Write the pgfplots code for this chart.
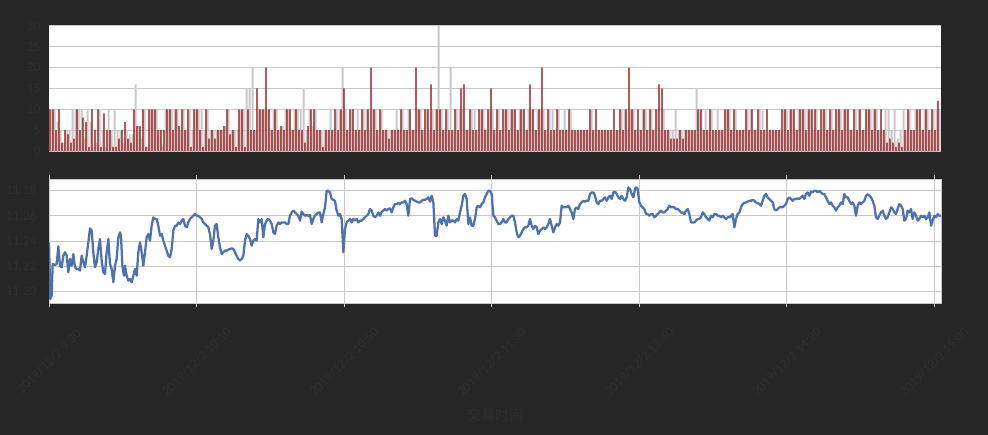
\documentclass[border=0pt]{standalone}
\usepackage{fontspec}
\setmainfont{Carlito}
\newfontfamily\cjk{Noto Sans CJK SC}
\usepackage{pgfplots}
\usepackage{pgfplotstable}
\pgfplotsset{compat=1.18}
\definecolor{bgc}{RGB}{38,38,38}
\definecolor{txt}{RGB}{47,47,47}
\definecolor{gridc}{RGB}{200,200,200}
\definecolor{barg}{RGB}{200,200,200}
\definecolor{barr}{RGB}{145,0,0}
\definecolor{linec}{RGB}{79,114,175}

\pgfplotstableread{
x g r
150 10 10
159 10 10
168 7 5
177 5 10
186 2 2
195 5 5
204 5 4
213 10 2
222 10 3
231 10 10
240 10 5
249 3 8
258 10 7
267 7 1
276 1 10
285 2 5
294 10 10
303 5 1
312 1 9
321 10 5
330 5 5
339 10 1
348 5 1
357 5 3
366 2 5
375 5 7
384 4 3
393 4 2
402 16 10
411 6 6
420 3 6
429 10 10
438 1 1
447 10 10
456 10 10
465 10 10
474 5 5
483 1 5
492 10 5
501 10 10
510 10 10
519 10 5
528 10 10
537 5 6
546 10 10
555 5 5
564 10 10
573 5 1
582 10 10
591 10 10
600 10 5
609 5 1
618 10 10
627 5 3
636 5 5
645 5 3
654 5 5
663 5 5
672 6 6
681 10 10
690 5 4
699 5 5
708 5 1
717 10 10
726 10 10
735 15 1
744 15 10
753 20 5
762 5 5
771 10 15
780 10 10
789 10 10
798 10 20
807 5 10
816 10 5
825 10 10
834 5 5
843 6 6
852 10 5
861 10 10
870 5 10
879 10 5
888 10 10
897 10 5
906 15 5
915 5 2
924 10 6
933 6 10
942 10 10
951 5 5
960 5 5
969 5 1
978 5 5
987 10 5
996 5 5
1005 10 10
1014 10 5
1023 20 10
1032 10 15
1041 5 5
1050 10 10
1059 5 10
1068 10 5
1077 5 5
1086 10 10
1095 10 5
1104 5 10
1113 10 20
1122 10 10
1131 5 5
1140 10 10
1149 5 5
1158 5 5
1167 5 3
1176 5 5
1185 10 5
1194 5 5
1203 10 10
1212 5 5
1221 10 5
1230 5 10
1239 5 5
1248 10 20
1257 10 10
1266 5 5
1275 10 10
1284 5 10
1293 10 16
1302 10 5
1311 31 10
1320 10 10
1329 5 5
1338 10 10
1347 20 5
1356 5 5
1365 10 10
1374 10 5
1383 10 15
1392 5 16
1401 5 5
1410 10 10
1419 10 5
1428 5 5
1437 10 10
1446 10 10
1455 5 5
1464 10 10
1473 10 15
1482 5 5
1491 10 10
1500 5 5
1509 10 10
1518 10 10
1527 10 5
1536 10 10
1545 5 10
1554 10 5
1563 10 10
1572 5 10
1581 10 5
1590 10 16
1599 5 10
1608 10 5
1617 10 10
1626 10 20
1635 5 5
1644 10 10
1653 10 5
1662 5 5
1671 10 10
1680 5 5
1689 10 5
1698 5 5
1707 10 10
1716 5 5
1725 5 5
1734 5 5
1743 5 5
1752 5 5
1761 5 5
1770 10 10
1779 5 5
1788 5 10
1797 5 5
1806 5 5
1815 5 5
1824 5 5
1833 5 5
1842 5 10
1851 5 5
1860 10 10
1869 10 5
1878 5 10
1887 10 20
1896 10 10
1905 5 5
1914 5 10
1923 10 5
1932 10 10
1941 5 5
1950 10 10
1959 5 5
1968 10 10
1977 5 16
1986 10 15
1995 5 5
2004 5 5
2013 5 3
2022 10 3
2031 5 3
2040 5 5
2049 5 3
2058 5 5
2067 5 5
2076 5 5
2085 15 5
2094 10 10
2103 5 10
2112 10 5
2121 5 5
2130 10 10
2139 5 5
2148 10 5
2157 5 5
2166 5 5
2175 10 10
2184 10 10
2193 5 5
2202 10 10
2211 5 5
2220 5 5
2229 5 5
2238 10 10
2247 10 5
2256 5 10
2265 5 5
2274 10 10
2283 10 5
2292 5 5
2301 5 10
2310 5 5
2319 5 5
2328 5 5
2337 5 5
2346 10 10
2355 10 10
2364 10 5
2373 10 10
2382 5 10
2391 10 5
2400 10 10
2409 10 10
2418 10 5
2427 10 10
2436 5 10
2445 10 10
2454 5 5
2463 10 10
2472 10 10
2481 5 5
2490 10 10
2499 5 5
2508 10 10
2517 10 10
2526 10 5
2535 10 10
2544 5 10
2553 5 5
2562 10 10
2571 10 5
2580 5 10
2589 5 5
2598 10 10
2607 10 10
2616 10 5
2625 10 10
2634 5 5
2643 5 10
2652 10 5
2661 10 2
2670 5 3
2679 10 2
2688 3 1
2697 5 2
2706 10 1
2715 5 5
2724 10 10
2733 5 5
2742 10 5
2751 10 10
2760 5 10
2769 10 5
2778 10 10
2787 5 5
2796 10 10
2805 10 5
2814 10 12
}\bars

\pgfplotstableread{
x y
147 11.2389
151 11.1942
155 11.1968
158 11.2218
165 11.2211
170 11.2218
175 11.2358
180 11.2205
185 11.2192
190 11.2284
195 11.2311
200 11.2284
205 11.2153
210 11.2258
215 11.2205
220 11.2297
225 11.2192
230 11.2179
235 11.2179
240 11.2166
245 11.2284
250 11.2232
255 11.2192
260 11.2284
265 11.2389
270 11.2500
275 11.2482
280 11.2311
285 11.2192
290 11.2232
295 11.2337
300 11.2416
305 11.2245
310 11.2153
315 11.2139
320 11.2311
325 11.2416
330 11.2218
335 11.2179
340 11.2074
345 11.2205
350 11.2258
355 11.2429
360 11.2468
363 11.2442
367 11.2205
372 11.2126
375 11.2205
380 11.2126
385 11.2087
390 11.2100
395 11.2074
400 11.2126
405 11.2179
410 11.2126
415 11.2311
420 11.2389
425 11.2311
430 11.2205
435 11.2311
440 11.2429
445 11.2455
450 11.2403
455 11.2521
460 11.2587
465 11.2574
470 11.2574
475 11.2521
480 11.2442
485 11.2455
490 11.2403
495 11.2363
500 11.2324
505 11.2284
510 11.2271
515 11.2337
520 11.2482
525 11.2521
530 11.2521
535 11.2547
540 11.2534
545 11.2561
550 11.2574
555 11.2521
560 11.2508
565 11.2547
570 11.2574
575 11.2587
580 11.2600
585 11.2613
590 11.2600
595 11.2600
600 11.2587
605 11.2574
610 11.2547
615 11.2534
625 11.2508
630 11.2455
635 11.2337
640 11.2403
645 11.2521
650 11.2534
655 11.2429
660 11.2350
665 11.2297
670 11.2311
675 11.2324
680 11.2324
685 11.2332
695 11.2342
700 11.2337
705 11.2311
710 11.2284
715 11.2258
720 11.2245
725 11.2258
730 11.2284
735 11.2403
740 11.2455
745 11.2442
750 11.2416
755 11.2363
760 11.2403
765 11.2416
770 11.2403
775 11.2574
780 11.2547
785 11.2574
790 11.2429
795 11.2534
800 11.2561
805 11.2574
810 11.2561
815 11.2534
820 11.2468
825 11.2455
830 11.2521
835 11.2547
840 11.2534
845 11.2547
855 11.2547
860 11.2534
865 11.2534
870 11.2600
875 11.2626
880 11.2640
885 11.2626
890 11.2613
895 11.2600
900 11.2561
905 11.2632
910 11.2613
915 11.2600
920 11.2605
925 11.2600
930 11.2605
935 11.2534
940 11.2574
945 11.2600
950 11.2613
955 11.2626
960 11.2626
965 11.2547
970 11.2613
975 11.2666
980 11.2797
985 11.2797
990 11.2784
995 11.2732
1000 11.2726
1005 11.2718
1010 11.2640
1015 11.2600
1020 11.2613
1025 11.2574
1030 11.2311
1035 11.2495
1040 11.2547
1045 11.2561
1050 11.2574
1055 11.2547
1060 11.2574
1065 11.2561
1070 11.2574
1075 11.2547
1080 11.2561
1085 11.2561
1090 11.2574
1095 11.2587
1100 11.2600
1105 11.2613
1110 11.2653
1115 11.2640
1120 11.2600
1125 11.2587
1130 11.2600
1135 11.2626
1140 11.2600
1145 11.2632
1150 11.2640
1155 11.2653
1160 11.2640
1165 11.2653
1170 11.2658
1175 11.2626
1180 11.2666
1185 11.2692
1190 11.2692
1195 11.2700
1200 11.2692
1205 11.2705
1210 11.2705
1215 11.2718
1220 11.2692
1225 11.2600
1230 11.2732
1235 11.2737
1240 11.2726
1245 11.2718
1250 11.2711
1255 11.2705
1260 11.2705
1265 11.2718
1270 11.2726
1275 11.2726
1280 11.2732
1285 11.2745
1290 11.2711
1295 11.2758
1300 11.2705
1305 11.2442
1310 11.2442
1315 11.2547
1320 11.2574
1325 11.2534
1330 11.2587
1335 11.2561
1340 11.2521
1345 11.2600
1350 11.2547
1355 11.2561
1360 11.2561
1365 11.2547
1370 11.2574
1375 11.2561
1380 11.2626
1385 11.2679
1390 11.2758
1395 11.2771
1400 11.2732
1405 11.2534
1410 11.2587
1415 11.2521
1420 11.2521
1425 11.2574
1430 11.2666
1435 11.2679
1440 11.2666
1445 11.2692
1450 11.2705
1455 11.2745
1460 11.2771
1465 11.2797
1470 11.2797
1475 11.2771
1480 11.2600
1485 11.2587
1490 11.2561
1495 11.2534
1500 11.2534
1505 11.2547
1510 11.2574
1515 11.2547
1520 11.2547
1525 11.2574
1530 11.2587
1535 11.2600
1540 11.2600
1545 11.2547
1550 11.2468
1555 11.2429
1560 11.2442
1565 11.2468
1570 11.2495
1575 11.2508
1580 11.2508
1585 11.2521
1590 11.2574
1595 11.2521
1600 11.2495
1605 11.2521
1610 11.2508
1615 11.2455
1620 11.2482
1625 11.2495
1630 11.2508
1635 11.2495
1640 11.2508
1645 11.2534
1650 11.2574
1655 11.2521
1660 11.2468
1665 11.2508
1670 11.2534
1675 11.2521
1680 11.2547
1685 11.2679
1690 11.2666
1695 11.2666
1700 11.2666
1705 11.2679
1710 11.2653
1715 11.2626
1720 11.2574
1725 11.2653
1730 11.2666
1735 11.2653
1740 11.2692
1745 11.2705
1750 11.2718
1755 11.2711
1760 11.2718
1765 11.2718
1770 11.2771
1775 11.2784
1780 11.2784
1785 11.2758
1790 11.2705
1795 11.2692
1800 11.2718
1805 11.2718
1810 11.2732
1815 11.2745
1820 11.2718
1825 11.2745
1830 11.2758
1835 11.2732
1840 11.2784
1845 11.2790
1850 11.2771
1855 11.2745
1860 11.2732
1865 11.2758
1870 11.2732
1875 11.2718
1880 11.2745
1885 11.2824
1890 11.2811
1895 11.2771
1900 11.2745
1905 11.2811
1908 11.2824
1913 11.2811
1918 11.2705
1923 11.2679
1928 11.2666
1933 11.2653
1938 11.2613
1943 11.2613
1948 11.2600
1953 11.2613
1958 11.2613
1963 11.2587
1968 11.2600
1973 11.2613
1978 11.2626
1983 11.2640
1988 11.2626
1993 11.2626
1998 11.2640
2003 11.2653
2008 11.2679
2013 11.2666
2018 11.2666
2023 11.2666
2028 11.2653
2033 11.2653
2038 11.2640
2043 11.2626
2048 11.2626
2053 11.2613
2058 11.2640
2063 11.2653
2068 11.2613
2073 11.2547
2078 11.2547
2083 11.2547
2088 11.2561
2093 11.2574
2098 11.2574
2103 11.2587
2108 11.2626
2113 11.2613
2118 11.2587
2123 11.2574
2128 11.2561
2133 11.2600
2138 11.2587
2143 11.2613
2148 11.2613
2153 11.2600
2158 11.2600
2163 11.2587
2168 11.2600
2173 11.2587
2178 11.2574
2183 11.2587
2188 11.2587
2193 11.2600
2198 11.2613
2203 11.2508
2208 11.2574
2213 11.2613
2218 11.2626
2223 11.2666
2228 11.2692
2233 11.2700
2238 11.2705
2243 11.2711
2248 11.2718
2253 11.2718
2258 11.2726
2263 11.2718
2268 11.2705
2273 11.2700
2278 11.2692
2283 11.2679
2288 11.2718
2293 11.2758
2298 11.2771
2303 11.2745
2308 11.2732
2313 11.2718
2318 11.2705
2323 11.2653
2328 11.2640
2333 11.2653
2338 11.2666
2343 11.2666
2348 11.2666
2353 11.2679
2358 11.2692
2363 11.2732
2368 11.2745
2373 11.2732
2378 11.2718
2383 11.2732
2388 11.2732
2393 11.2737
2398 11.2732
2403 11.2745
2408 11.2758
2413 11.2732
2418 11.2771
2423 11.2784
2428 11.2758
2433 11.2790
2438 11.2784
2443 11.2797
2448 11.2797
2453 11.2784
2458 11.2797
2463 11.2784
2468 11.2771
2473 11.2771
2478 11.2745
2483 11.2718
2488 11.2692
2493 11.2705
2498 11.2679
2503 11.2666
2508 11.2640
2513 11.2666
2518 11.2679
2523 11.2705
2528 11.2692
2533 11.2771
2538 11.2745
2543 11.2745
2548 11.2718
2553 11.2692
2558 11.2705
2563 11.2679
2568 11.2600
2573 11.2679
2578 11.2705
2583 11.2692
2588 11.2705
2593 11.2718
2598 11.2758
2603 11.2771
2608 11.2758
2613 11.2745
2618 11.2718
2623 11.2679
2628 11.2587
2633 11.2574
2638 11.2600
2643 11.2626
2648 11.2640
2653 11.2600
2658 11.2574
2663 11.2587
2668 11.2626
2673 11.2666
2678 11.2653
2683 11.2626
2688 11.2613
2693 11.2653
2698 11.2692
2703 11.2679
2708 11.2653
2713 11.2561
2718 11.2574
2723 11.2640
2728 11.2626
2733 11.2653
2738 11.2574
2743 11.2626
2748 11.2600
2753 11.2561
2758 11.2574
2763 11.2600
2768 11.2587
2773 11.2600
2778 11.2574
2783 11.2587
2788 11.2626
2793 11.2521
2798 11.2561
2803 11.2600
2808 11.2587
2813 11.2613
2818 11.2600
2823 11.2600
}\price

\begin{document}
\begin{tikzpicture}
\useasboundingbox (0,0) rectangle (741pt,-326.25pt);
\fill[bgc] (0,0) rectangle (741pt,-326.25pt);
\begin{axis}[
  at={(36.75pt,-19.5pt)}, anchor=north west,
  scale only axis, width=669pt, height=93.75pt,
  xmin=147, xmax=2823, ymin=0, ymax=30,
  ytick={0,5,10,15,20,25,30}, xtick=\empty,
  axis background/.style={fill=white},
  axis line style={draw=none},
  ymajorgrids, grid style={gridc, line width=0.75pt},
  major tick length=0pt,
  tick label style={font=\fontsize{10}{12}\selectfont, text=txt},
  yticklabel style={xshift=-3pt},
  /pgf/number format/assume math mode=true,
]
\addplot[ybar, bar width=6, bar shift=1.125pt, fill=barg, draw=none] table[x=x,y=g]{\bars};
\addplot[ybar, bar width=3.3, fill=barr, draw=none] table[x=x,y=r]{\bars};
\end{axis}
\begin{axis}[
  at={(36.75pt,-134.25pt)}, anchor=north west,
  scale only axis, width=669pt, height=93pt,
  xmin=147, xmax=2823, ymin=11.191, ymax=11.289,
  ytick={11.20,11.22,11.24,11.26,11.28},
  yticklabel style={xshift=-3pt, /pgf/number format/fixed, /pgf/number format/fixed zerofill, /pgf/number format/precision=2},
  xtick={147,589.5,1032,1474.5,1917,2359.5,2802},
  xticklabels={2019/12/2 9:30,2019/12/2 10:10,2019/12/2 10:50,2019/12/2 11:30,2019/12/2 13:40,2019/12/2 14:20,2019/12/2 15:00},
  xticklabel style={yshift=-41pt, rotate=45, anchor=center},
  axis background/.style={fill=white},
  axis line style={draw=gridc},
  xmajorgrids, ymajorgrids, grid style={gridc, line width=0.75pt},
  tick align=outside, xtick style={draw=gridc, line width=0.75pt}, ytick style={draw=none},
  major tick length=3pt,
  tick label style={font=\fontsize{10}{12}\selectfont, text=txt},
  /pgf/number format/assume math mode=true,
  xlabel={\cjk 交易时间},
  xlabel style={at={(axis description cs:0.5,0)}, anchor=center, yshift=-84pt, font=\fontsize{10.5}{12}\selectfont, text=txt},
]
\addplot[linec, line width=1.7pt, line join=round] table[x=x,y=y]{\price};
\end{axis}
\end{tikzpicture}
\end{document}
